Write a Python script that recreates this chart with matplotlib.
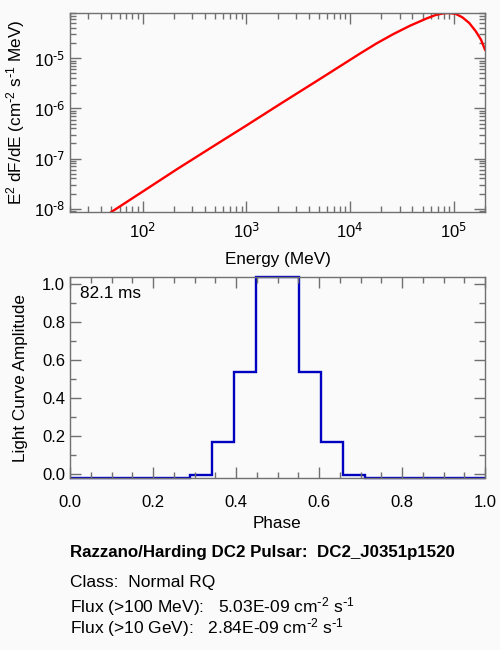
import math
import matplotlib
matplotlib.use("Agg")
import matplotlib.pyplot as plt
from matplotlib.ticker import MultipleLocator, LogLocator, NullFormatter

# ---- data ----
energy_mev = [50, 100, 214, 500, 1000, 2110, 5000, 12500, 18100, 26200, 38000,
              55100, 67000, 80000, 90000, 105000, 121000, 141000, 163000, 183000, 200000]
e2dfde = [8.57e-9, 2.18e-8, 6.1e-8, 1.85e-7, 4.55e-7, 1.22e-6, 3.75e-6, 1.25e-5, 2.0e-5,
          3.06e-5, 4.5e-5, 6.3e-5, 7.35e-5, 7.94e-5, 8.05e-5, 7.7e-5, 6.6e-5, 5.08e-5,
          3.47e-5, 2.36e-5, 1.49e-5]

phase_edges = [0.0, 0.289, 0.342, 0.395, 0.448, 0.552, 0.605, 0.658, 0.711, 1.0]
lc_amplitude = [-0.025, -0.005, 0.165, 0.535, 1.035, 0.535, 0.165, -0.005, -0.025]

period_label = "82.1 ms"
title_line = "Razzano/Harding DC2 Pulsar:  DC2_J0351p1520"
class_line = "Class:  Normal RQ"
flux100_line = r"Flux (>100 MeV):   5.03E-09 cm$^{\text{-}2}$ s$^{\text{-}1}$"
flux10g_line = r"Flux (>10 GeV):   2.84E-09 cm$^{\text{-}2}$ s$^{\text{-}1}$"

# ---- style ----
plt.rcParams['font.family'] = ['Liberation Sans', 'DejaVu Sans']
plt.rcParams['mathtext.default'] = 'regular'
bg = '#fafafa'
spine_c = '#707070'
W, H = 500, 650

fig = plt.figure(figsize=(W / 100, H / 100), dpi=100, facecolor=bg)

def ax_rect(x0, y0, x1, y1):
    return [x0 / W, 1 - y1 / H, (x1 - x0) / W, (y1 - y0) / H]

def style(ax):
    ax.set_facecolor(bg)
    for s in ax.spines.values():
        s.set_color(spine_c)
        s.set_linewidth(1.0)
    ax.tick_params(which='both', direction='in', top=True, right=True,
                   color=spine_c, labelsize=12, labelcolor='black')
    ax.tick_params(which='major', length=8, width=1)
    ax.tick_params(which='minor', length=4, width=1)

def pow10(v, p):
    return r"$10^{\text{%d}}$" % round(math.log10(v))

# ---- top: spectrum ----
ax1 = fig.add_axes(ax_rect(70, 13, 485, 212))
style(ax1)
ax1.plot(energy_mev, e2dfde, color='#ff0000', lw=1.7)
ax1.set_xscale('log')
ax1.set_yscale('log')
ax1.set_xlim(20, 2.0e5)
ax1.set_ylim(8.57e-9, 8.05e-5)
ax1.xaxis.set_minor_locator(LogLocator(base=10, subs=range(2, 10)))
ax1.yaxis.set_minor_locator(LogLocator(base=10, subs=range(2, 10)))
ax1.xaxis.set_minor_formatter(NullFormatter())
ax1.yaxis.set_minor_formatter(NullFormatter())
ax1.xaxis.set_major_formatter(plt.FuncFormatter(pow10))
ax1.yaxis.set_major_formatter(plt.FuncFormatter(pow10))
ax1.tick_params(axis='x', pad=7)
ax1.set_xlabel("Energy (MeV)", fontsize=12.3, labelpad=8)
ax1.set_ylabel(r"E$^2$ dF/dE (cm$^{\text{-}2}$ s$^{\text{-}1}$ MeV)", fontsize=12.3,
               labelpad=5)

# ---- bottom: light curve ----
ax2 = fig.add_axes(ax_rect(70, 277.3, 485, 478.3))
style(ax2)
ax2.stairs(lc_amplitude, phase_edges, color='#0000c0', lw=1.7, baseline=None,
           clip_on=False)
ax2.set_xlim(0, 1)
ax2.set_ylim(min(lc_amplitude), max(lc_amplitude))
ax2.xaxis.set_major_locator(MultipleLocator(0.2))
ax2.xaxis.set_minor_locator(MultipleLocator(0.05))
ax2.yaxis.set_major_locator(MultipleLocator(0.2))
ax2.yaxis.set_minor_locator(MultipleLocator(0.1))
ax2.xaxis.set_major_formatter(plt.FuncFormatter(lambda v, p: f"{v:.1f}"))
ax2.yaxis.set_major_formatter(plt.FuncFormatter(lambda v, p: f"{v:.1f}"))
ax2.tick_params(axis='x', pad=12)
ax2.set_xlabel("Phase", fontsize=12.3, labelpad=4)
ax2.set_ylabel("Light Curve Amplitude", fontsize=12.3, labelpad=10)
ax2.text(0.025, 0.955, period_label, transform=ax2.transAxes, fontsize=12.3,
         ha='left', va='top')

# ---- info text ----
def ftext(x, y, s, size=12.5, **kw):
    fig.text(x / W, 1 - y / H, s, ha='left', va='center', fontsize=size, **kw)

ftext(70, 553, title_line, size=12.2, fontweight='bold')
ftext(70, 582, class_line)
ftext(70, 607, flux100_line)
ftext(70, 628, flux10g_line)

fig.savefig("out.png", dpi=100, facecolor=bg)
